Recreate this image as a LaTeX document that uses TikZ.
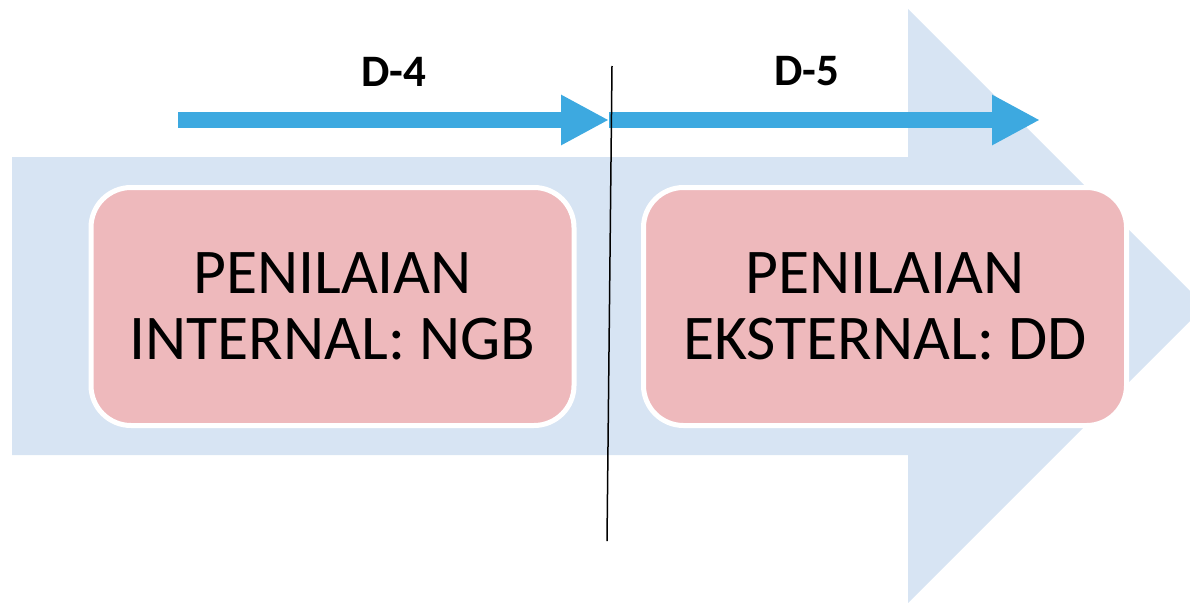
\documentclass[tikz,border=0pt]{standalone}
\usepackage{fontspec}
\setmainfont{Carlito}
\usetikzlibrary{arrows.meta}
\definecolor{bigblue}{HTML}{D7E4F3}
\definecolor{boxpink}{HTML}{EEB9BC}
\definecolor{arrowblue}{HTML}{3DA9E0}
\tikzset{
  stagebox/.style={draw=white, line width=5pt, fill=boxpink, rounded corners=40pt,
    minimum width=483pt, minimum height=238pt, align=center, inner sep=0pt,
    font=\fontsize{63.7}{66}\selectfont},
  daylabel/.style={font=\fontsize{45}{50}\selectfont\bfseries, inner sep=0pt},
  timearrow/.style={draw=arrowblue, line width=16pt, -{Triangle[length=48pt,width=47pt]}},
  divider/.style={draw=black, line width=1.5pt}
}
\begin{document}
\begin{tikzpicture}[x=1pt,y=-1pt]
\useasboundingbox (0,0) rectangle (1190,602);
\begin{scope}
\clip (0,0) rectangle (1190,602);
\fill[bigblue] (12,157) -- (908,157) -- (908,9) -- (1205,306) -- (908,603) -- (908,455) -- (12,455) -- cycle;
\end{scope}
\node[stagebox] (internal) at (332.5,306.5) {PENILAIAN\\INTERNAL: NGB};
\node[stagebox] (eksternal) at (885,306.5) {PENILAIAN\\EKSTERNAL: DD};
\coordinate (a1s) at (178,120);
\coordinate (a1e) at (609,120);
\coordinate (a2s) at (609,120);
\coordinate (a2e) at (1040,120);
\draw[timearrow] (a1s) -- (a1e);
\draw[timearrow] (a2s) -- (a2e);
\coordinate (vt) at (612,66);
\coordinate (vb) at (607,541);
\draw[divider] (vt) -- (vb);
\node[daylabel] (d4) at (394,71.5) {D-4};
\node[daylabel] (d5) at (807,71.5) {D-5};
\end{tikzpicture}
\end{document}
